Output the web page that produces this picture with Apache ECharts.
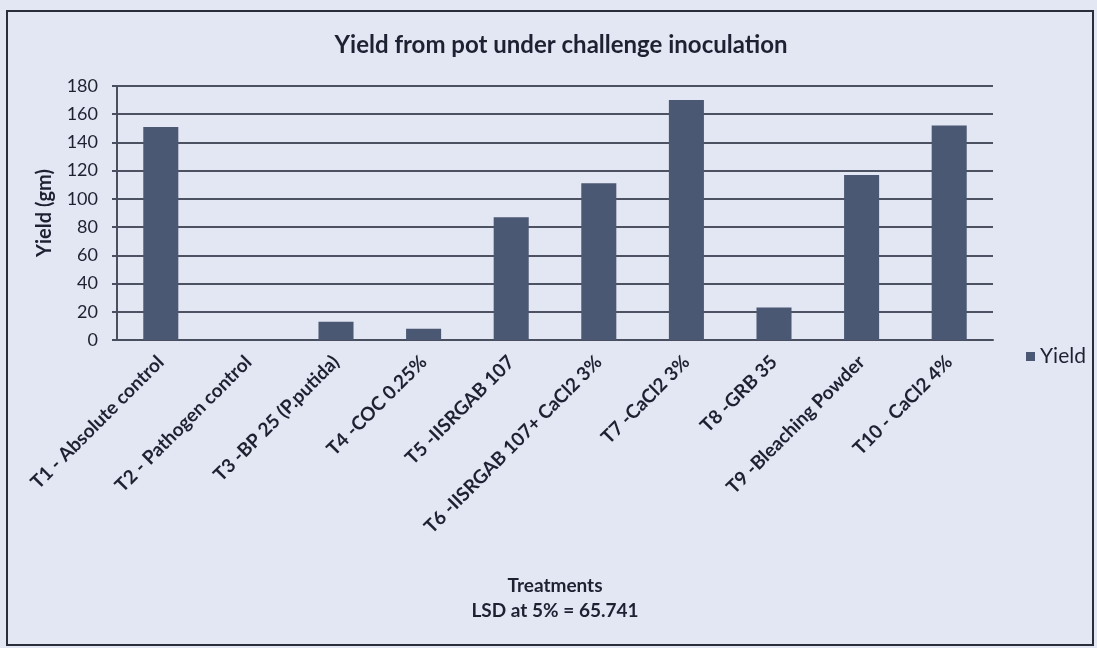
<!DOCTYPE html>
<html>
<head>
<meta charset="utf-8">
<script src="https://cdn.jsdelivr.net/npm/echarts@6/dist/echarts.min.js"></script>
<style>
  html, body { margin: 0; padding: 0; background: #e3e6f3; }
  #chart { width: 1097px; height: 648px; }
</style>
</head>
<body>
<div id="chart"></div>
<script>
// treatments and yields
var treatments = [
    'T1 - Absolute control',
    'T2 - Pathogen control',
    'T3 -BP 25 (P.putida)',
    'T4 -COC 0.25%',
    'T5 -IISRGAB 107',
    'T6 -IISRGAB 107+ CaCl2 3%',
    'T7 -CaCl2 3%',
    'T8 -GRB 35',
    'T9 -Bleaching Powder',
    'T10 - CaCl2 4%'
];
var yieldValues = [151, 0, 13, 8, 87, 111, 170, 23, 117, 152];
var yTicks = [0, 20, 40, 60, 80, 100, 120, 140, 160, 180];

var dom = document.getElementById('chart');
var myChart = echarts.init(dom);
var font = 'Lato, "Open Sans", sans-serif';
var ink = '#1d2233';

var option = {
    backgroundColor: '#e3e6f3',
    textStyle: { fontFamily: font, color: ink },
    title: {
        text: 'Yield from pot under challenge inoculation',
        left: 556,
        textAlign: 'center',
        top: 28,
        textStyle: { fontFamily: font, fontSize: 24, fontWeight: 'bold', color: ink }
    },
    legend: {
        data: ['Yield'],
        left: 1021,
        top: 341,
        icon: 'rect',
        itemWidth: 9,
        itemHeight: 9,
        itemGap: 4,
        textStyle: { fontFamily: font, fontSize: 21, color: ink }
    },
    grid: { left: 117, right: 104, top: 86, bottom: 308 },
    xAxis: {
        type: 'category',
        data: treatments,
        name: 'Treatments\nLSD at 5% = 65.741',
        nameLocation: 'middle',
        nameGap: 233,
        nameTextStyle: { fontFamily: font, fontSize: 19, fontWeight: 'bold', color: ink, lineHeight: 25 },
        axisLine: { lineStyle: { color: '#4a4f60', width: 2 } },
        axisTick: { show: false },
        axisLabel: {
            interval: 0,
            rotate: 45,
            margin: 19,
            fontFamily: font,
            fontSize: 19,
            fontWeight: 'bold',
            color: ink
        }
    },
    yAxis: {
        type: 'value',
        min: yTicks[0],
        max: yTicks[yTicks.length - 1],
        interval: 20,
        name: 'Yield (gm)',
        nameLocation: 'middle',
        nameGap: 62,
        nameTextStyle: { fontFamily: font, fontSize: 20, fontWeight: 'bold', color: ink },
        axisLine: { show: true, lineStyle: { color: '#4a4f60', width: 2 } },
        axisTick: { show: true, inside: false, length: 5, lineStyle: { color: '#4a4f60', width: 2 } },
        axisLabel: { margin: 19, fontFamily: font, fontSize: 18, color: ink },
        splitLine: { lineStyle: { color: '#4d5263', width: 2 } }
    },
    series: [
        {
            name: 'Yield',
            type: 'bar',
            data: yieldValues,
            barWidth: '40%',
            itemStyle: { color: '#4b5873' }
        }
    ],
    graphic: [
        {
            type: 'rect',
            shape: { x: 7, y: 11, width: 1086, height: 634 },
            style: { fill: 'none', stroke: '#2a2e3a', lineWidth: 2 },
            silent: true
        }
    ]
};

if (option && typeof option === 'object') {
    myChart.setOption(option, true);
}
</script>
</body>
</html>
